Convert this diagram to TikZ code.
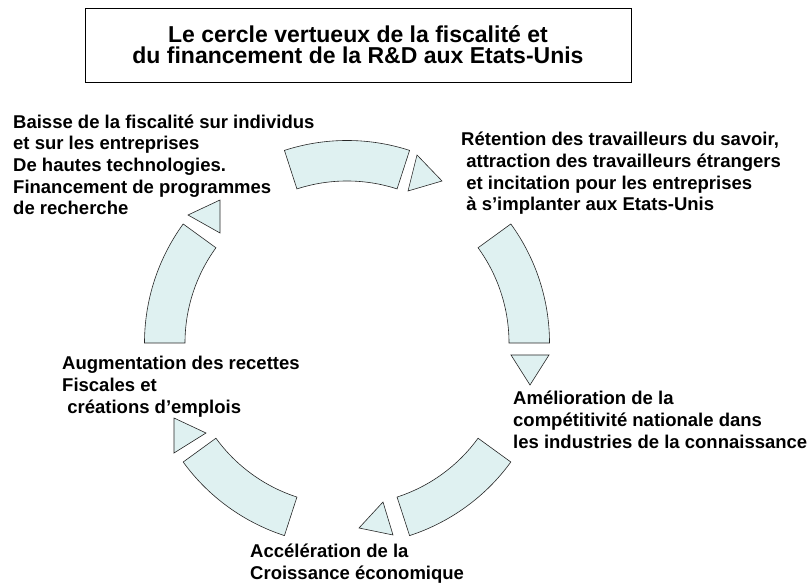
\documentclass[tikz,border=0pt]{standalone}
\usepackage{fontspec}
\setmainfont{Liberation Sans}
\definecolor{arcfill}{HTML}{DFF1F1}
\begin{document}
\begin{tikzpicture}[x=1pt,y=1pt,
    seg/.style={draw=black!85,fill=arcfill,line width=0.6pt},
    lbl/.style={anchor=base west,align=left,inner sep=0pt,font=\bfseries\fontsize{18.5}{21.7}\selectfont}]
    \useasboundingbox (0,0) rectangle (811,585);
    \node[draw,line width=0.8pt,minimum width=546,minimum height=74,align=center,font=\bfseries\fontsize{23}{20.8}\selectfont] (titre) at (358,540) {Le cercle vertueux de la fiscalité et\\du financement de la R\&D aux Etats-Unis};
    % anneau
    \begin{scope}[shift={(347,242)}]
        \foreach \a in {0,72,144,216,288}
            \draw[seg] (\a:202.5) arc[start angle=\a,end angle=\a+36,radius=202.5] -- (\a+36:162) arc[start angle=\a+36,end angle=\a,radius=162] -- cycle;
    \end{scope}
    % fleches
    \draw[seg] (417,430) -- (442,404) -- (408,394) -- cycle;
    \draw[seg] (511,230) -- (549,230) -- (530,200) -- cycle;
    \draw[seg] (383,83) -- (393,50) -- (359,57) -- cycle;
    \draw[seg] (174,167) -- (206,152) -- (174,132) -- cycle;
    \draw[seg] (220,385) -- (188,370) -- (220,352) -- cycle;
    % textes (base = derniere ligne)
    \node[lbl] (baisse) at (13,370) {Baisse de la fiscalité sur individus\\et sur les entreprises\\De hautes technologies.\\Financement de programmes\\de recherche};
    \node[lbl] (retention) at (461,374.2) {Rétention des travailleurs du savoir,\\~attraction des travailleurs étrangers\\~et incitation pour les entreprises\\~à s’implanter aux Etats-Unis};
    \node[lbl] (amelioration) at (513,136.6) {Amélioration de la\\compétitivité nationale dans\\les industries de la connaissance};
    \node[lbl] (augmentation) at (62,171.6) {Augmentation des recettes\\Fiscales et\\~créations d’emplois};
    \node[lbl] (acceleration) at (250,5.3) {Accélération de la\\Croissance économique};
\end{tikzpicture}
\end{document}
